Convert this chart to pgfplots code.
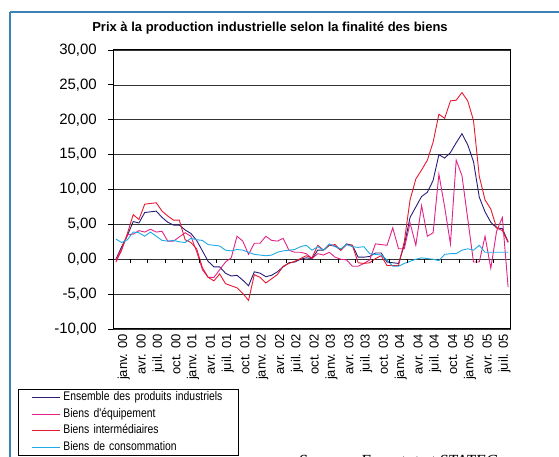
\documentclass[border=0pt]{standalone}
\usepackage{fontspec}
\setmainfont{Liberation Sans}
\newfontfamily\narrowfont[FakeStretch=0.83]{Liberation Sans}
\newfontfamily\serifit{Liberation Serif}
\usepackage{pgfplots}
\usepackage{pgfplotstable}
\pgfplotsset{compat=1.18}

\definecolor{cEns}{RGB}{40,30,120}
\definecolor{cEqu}{RGB}{225,35,135}
\definecolor{cInt}{RGB}{230,25,50}
\definecolor{cCon}{RGB}{30,170,230}
\definecolor{cFrame}{RGB}{60,130,180}

\pgfplotstableread{
i ens equ int con
0 0.0 -0.1 -0.4 2.9
1 1.8 1.5 1.3 2.4
2 3.4 3.5 3.7 2.8
3 5.4 3.6 6.4 3.9
4 5.2 4.1 5.7 3.8
5 6.7 3.9 7.9 3.3
6 6.8 4.3 8.0 3.9
7 6.9 3.9 8.1 3.3
8 6.0 4.0 6.9 2.7
9 5.3 2.6 6.2 2.6
10 4.9 2.6 5.6 2.7
11 4.9 3.2 5.6 2.5
12 4.2 3.8 2.8 2.4
13 3.7 3.3 2.4 3.0
14 2.7 1.1 1.5 2.8
15 1.2 -1.5 -1.2 2.7
16 -0.3 -2.6 -2.6 2.1
17 -1.1 -2.6 -3.1 2.0
18 -1.1 -1.5 -2.1 1.9
19 -2.0 -0.4 -3.5 1.3
20 -2.4 0.2 -3.8 1.2
21 -2.3 3.3 -4.1 1.4
22 -3.0 2.6 -4.9 1.3
23 -3.8 0.7 -5.9 1.0
24 -1.8 2.3 -2.2 0.7
25 -2.0 2.3 -2.6 0.6
26 -2.5 3.3 -3.4 0.5
27 -2.3 2.7 -2.8 0.6
28 -1.8 2.6 -2.2 1.0
29 -1.1 3.0 -1.0 1.2
30 -0.5 1.3 -0.6 1.3
31 -0.4 1.0 -0.3 1.4
32 0.0 1.0 0.1 1.8
33 0.2 0.8 0.5 2.0
34 0.1 0.1 0.2 1.3
35 1.3 0.8 2.0 1.8
36 1.3 0.6 1.3 1.3
37 2.0 1.0 2.0 2.2
38 1.9 0.3 2.1 1.8
39 1.3 0.0 1.3 1.5
40 2.2 -0.1 2.1 2.1
41 2.0 -1.0 2.0 1.8
42 0.3 -1.0 -0.5 1.7
43 0.3 -0.6 -0.6 1.8
44 0.4 -0.1 -0.5 0.8
45 0.9 2.2 0.1 0.7
46 0.9 2.1 0.5 0.6
47 -0.4 2.0 -0.9 -0.1
48 -0.5 4.5 -0.9 -1.0
49 -0.6 1.5 -0.9 -1.0
50 2.0 1.5 2.5 -0.6
51 6.0 5.2 8.5 -0.3
52 7.5 2.0 11.5 0.0
53 9.0 7.7 12.8 0.2
54 9.6 3.3 14.2 0.1
55 11.3 3.8 16.8 0.0
56 15.0 12.2 20.8 -0.2
57 14.5 7.5 20.2 0.7
58 15.3 2.2 22.7 0.8
59 16.7 14.2 22.8 0.8
60 18.0 12.0 23.9 1.3
61 16.4 5.8 22.7 1.5
62 14.0 -0.4 19.9 1.3
63 8.9 -0.4 11.9 2.0
64 6.8 3.3 8.5 1.0
65 5.3 -1.3 7.2 1.0
66 4.5 4.0 4.5 1.0
67 4.4 6.0 4.1 1.0
68 2.5 -4.0 2.4 1.0
}\data

\begin{document}
\begin{tikzpicture}[x=1pt,y=1pt]
\useasboundingbox (0,0) rectangle (559,457);
% outer frame (top and left)
\draw[cFrame, line width=2.4pt] (10,445) -- (570,445);
\draw[cFrame, line width=2.4pt] (10,445) -- (10,-5);
\node[anchor=base, font=\bfseries\fontsize{13}{15}\selectfont] at (270,425.5) {Prix à la production industrielle selon la finalité des biens};
\begin{axis}[
  at={(113pt,128pt)}, anchor=south west,
  scale only axis, width=398pt, height=279pt,
  xmin=-0.5, xmax=68.5, ymin=-10, ymax=30,
  ytick={-10,-5,...,30},
  xtick={0,3,...,66},
  xticklabels={janv. 00,avr. 00,juil. 00,oct. 00,janv. 01,avr. 01,juil. 01,oct. 01,janv. 02,avr. 02,juil. 02,oct. 02,janv. 03,avr. 03,juil. 03,oct. 03,janv. 04,avr. 04,juil. 04,oct. 04,janv. 05,avr. 05,juil. 05},
  xticklabel style={rotate=90, anchor=east, font=\fontsize{13}{15}\selectfont, inner sep=0pt},
  x tick label style={yshift=-8pt},
  yticklabel style={font=\fontsize{15}{17}\selectfont, inner sep=0pt, xshift=-11pt},
  /pgf/number format/.cd, fixed, fixed zerofill, precision=2, use comma, assume math mode=true,
  /pgfplots/.cd,
  ymajorgrids, major grid style={black!80, line width=0.7pt},
  axis line style={black, line width=1pt},
  ytick pos=left, tick align=outside,
  major x tick style={draw=none},
  major y tick style={black, line width=0.8pt},
  major tick length=5pt,
  legend style={at={(axis description cs:-0.2387,-0.215)}, anchor=north west,
    draw=black, line width=0.8pt, inner xsep=0pt, inner ysep=2.5pt,
    font=\narrowfont\fontsize{12.5}{14}\selectfont,
    nodes={inner sep=0pt, text height=9pt, text depth=3pt, text width=175pt, align=left},
    row sep=4.5pt},
  legend cell align=left,
  legend image code/.code={\path[draw=none] (-14pt,0pt) -- (31pt,0pt); \draw[#1] (0pt,0pt) -- (28pt,0pt);},
]
\addplot[cEns, line width=0.9pt, mark=none] table[x=i, y=ens] {\data};
\addlegendentry{Ensemble des produits industriels}
\addplot[cEqu, line width=0.9pt, mark=none] table[x=i, y=equ] {\data};
\addlegendentry{Biens d'équipement}
\addplot[cInt, line width=0.9pt, mark=none] table[x=i, y=int] {\data};
\addlegendentry{Biens intermédiaires}
\addplot[cCon, line width=0.9pt, mark=none] table[x=i, y=con] {\data};
\addlegendentry{Biens de consommation}
\pgfplotsinvokeforeach{2.5,5.5,...,65.5}{\draw[black, line width=0.8pt] (axis cs:#1,0) -- ++(0pt,-4pt);}
\end{axis}
\node[anchor=north west, font=\serifit\itshape\fontsize{17}{19}\selectfont] at (295,5) {Source : Eurostat et STATEC};
\end{tikzpicture}
\end{document}
